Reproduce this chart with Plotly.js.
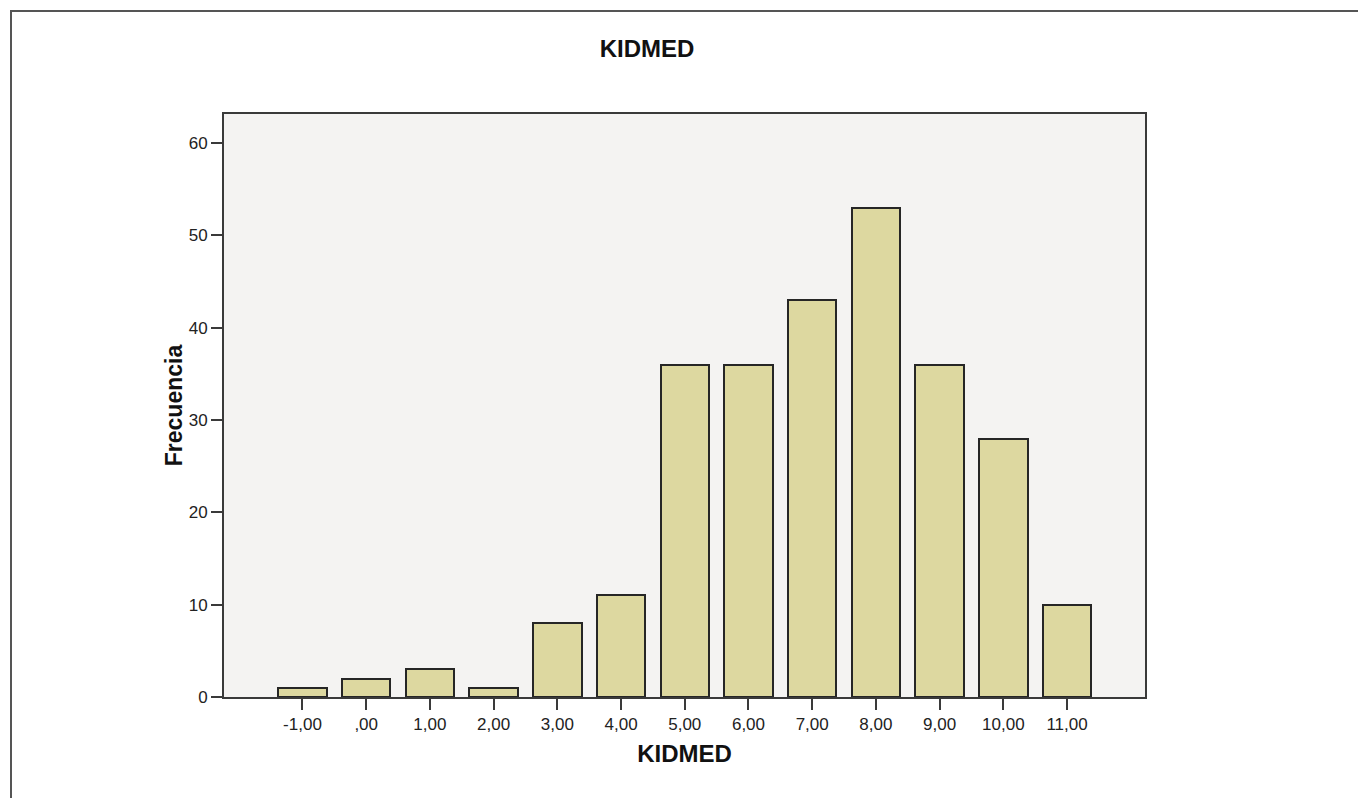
<!DOCTYPE html>
<html>
<head>
<meta charset="utf-8">
<script src="https://cdn.plot.ly/plotly-3.0.1.min.js"></script>
<style>
  html, body { margin: 0; padding: 0; background: #ffffff; overflow: hidden; }
  #wrap { position: relative; width: 1358px; height: 798px; }
  #frame { position: absolute; left: 10px; top: 10px; width: 1400px; height: 900px;
           border-left: 2px solid #555; border-top: 2px solid #555; pointer-events: none; z-index: 5; }
  #chart { position: absolute; left: 0; top: 0; width: 1358px; height: 798px; }
</style>
</head>
<body>
<div id="wrap">
  <div id="chart"></div>
  <div id="frame"></div>
</div>
<script>
// Data
const kidmedValues = [-1, 0, 1, 2, 3, 4, 5, 6, 7, 8, 9, 10, 11];
const kidmedLabels = ["-1,00", ",00", "1,00", "2,00", "3,00", "4,00", "5,00", "6,00", "7,00", "8,00", "9,00", "10,00", "11,00"];
const frequencies = [1, 2, 3, 1, 8, 11, 36, 36, 43, 53, 36, 28, 10];
const yTickValues = [0, 10, 20, 30, 40, 50, 60];
const chartTitle = "KIDMED";
const xTitle = "KIDMED";
const yTitle = "Frecuencia";

const FONT = "'Liberation Sans', Arial, Helvetica, sans-serif";
const AXIS = "#3a3a3a";

const trace = {
  type: "bar",
  x: kidmedValues,
  y: frequencies,
  width: 0.76,
  marker: { color: "#ddd8a0", line: { color: "#262626", width: 2 } },
  hoverinfo: "x+y"
};

const layout = {
  width: 1358,
  height: 798,
  margin: { l: 224, r: 213, t: 114, b: 101, pad: 0 },
  paper_bgcolor: "#ffffff",
  plot_bgcolor: "#f4f3f2",
  showlegend: false,
  font: { family: FONT, size: 17, color: "#222" },
  title: {
    text: chartTitle,
    font: { family: FONT, size: 24, color: "#111", weight: "bold" },
    xref: "container", yref: "container",
    x: 647 / 1358, xanchor: "center",
    y: 1 - 49 / 798, yanchor: "middle"
  },
  xaxis: {
    range: [-2.232, 12.224],
    tickmode: "array",
    tickvals: kidmedValues,
    ticktext: kidmedLabels,
    ticks: "outside", ticklen: 11, tickwidth: 2, tickcolor: AXIS,
    showline: true, linecolor: AXIS, linewidth: 2, mirror: true,
    showgrid: false, zeroline: false,
    tickfont: { family: FONT, size: 17, color: "#222" },
    automargin: false,
    title: { text: xTitle, standoff: 12, font: { family: FONT, size: 24, color: "#111", weight: "bold" } }
  },
  yaxis: {
    range: [0, 63.16],
    tickmode: "array",
    tickvals: yTickValues,
    ticks: "outside", ticklen: 11, tickwidth: 2, tickcolor: AXIS,
    showline: true, linecolor: AXIS, linewidth: 2, mirror: true,
    showgrid: false, zeroline: false,
    tickfont: { family: FONT, size: 17, color: "#222" },
    automargin: false,
    title: { text: yTitle, standoff: 0, font: { family: FONT, size: 23, color: "#111", weight: "bold" } }
  },
  bargap: 0
};

Plotly.newPlot("chart", [trace], layout, { displayModeBar: false, staticPlot: false });
</script>
</body>
</html>
